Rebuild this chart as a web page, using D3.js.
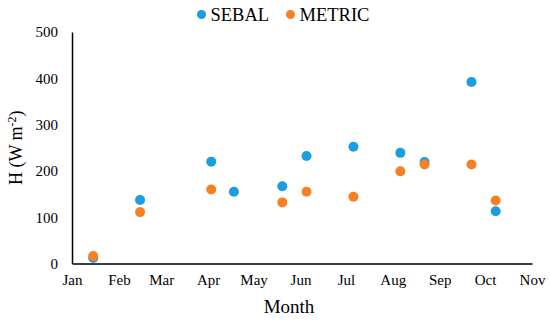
<!DOCTYPE html>
<meta charset="utf-8">
<style>
  body { margin: 0; background: white; }
</style>
<div id="chart"></div>
<script src="https://d3js.org/d3.v7.min.js"></script>
<script>

var sebalDates = ["2015-01-15", "2015-02-15", "2015-04-03", "2015-04-18", "2015-05-20", "2015-06-05",
                  "2015-07-06", "2015-08-06", "2015-08-22", "2015-09-22", "2015-10-08"];
var sebalValues = [12, 137, 220, 155, 167, 232, 252, 239, 219, 392, 113];

var metricDates = ["2015-01-15", "2015-02-15", "2015-04-03", "2015-05-20", "2015-06-05",
                   "2015-07-06", "2015-08-06", "2015-08-22", "2015-09-22", "2015-10-08"];
var metricValues = [16, 111, 160, 132, 155, 144, 199, 214, 214, 136];

var yTicks = [0, 100, 200, 300, 400, 500];

var width = 550, height = 322;
var margin = {top: 32, right: 18, bottom: 58.5, left: 72};
var serif = "'Liberation Serif', 'Times New Roman', serif";

var parse = d3.timeParse("%Y-%m-%d");

var svg = d3.select("#chart").append("svg")
  .attr("width", width)
  .attr("height", height);

var x = d3.scaleTime()
  .domain([parse("2015-01-01"), parse("2015-11-01")])
  .range([margin.left, width - margin.right]);

var y = d3.scaleLinear()
  .domain([0, 500])
  .range([height - margin.bottom, margin.top]);

// x axis
var xAxis = svg.append("g")
  .attr("transform", "translate(0," + y(0) + ")")
  .call(d3.axisBottom(x)
    .ticks(d3.timeMonth.every(1))
    .tickFormat(d3.timeFormat("%b"))
    .tickSize(0)
    .tickPadding(11));
xAxis.select(".domain").attr("stroke", "#000").attr("stroke-width", 1.5);
xAxis.selectAll("text")
  .style("font-family", serif)
  .style("font-size", "15px")
  .style("fill", "#000");

// y axis
var yAxis = svg.append("g")
  .attr("transform", "translate(" + margin.left + ",0)")
  .call(d3.axisLeft(y).tickValues(yTicks).tickSize(0).tickPadding(14));
yAxis.select(".domain").attr("stroke", "#000").attr("stroke-width", 1.5);
yAxis.selectAll("text")
  .style("font-family", serif)
  .style("font-size", "15px")
  .style("fill", "#000");

// axis titles
svg.append("text")
  .attr("x", 289)
  .attr("y", 313)
  .attr("text-anchor", "middle")
  .style("font-family", serif)
  .style("font-size", "19px")
  .text("Month");

var yTitle = svg.append("text")
  .attr("transform", "translate(22," + ((y(0) + y(500)) / 2) + ") rotate(-90)")
  .attr("text-anchor", "middle")
  .style("font-family", serif)
  .style("font-size", "18px");
yTitle.append("tspan").text("H (W m");
yTitle.append("tspan").attr("dy", -6).style("font-size", "12px").text("-2");
yTitle.append("tspan").attr("dy", 6).text(")");

// points
function drawSeries(dates, values, color) {
  svg.append("g")
    .selectAll("circle")
    .data(dates.map(function(d, i) { return {date: parse(d), value: values[i]}; }))
    .enter()
    .append("circle")
      .attr("cx", function(d) { return x(d.date); })
      .attr("cy", function(d) { return y(d.value); })
      .attr("r", 5)
      .attr("fill", color);
}
drawSeries(sebalDates, sebalValues, "#1B9DE0");
drawSeries(metricDates, metricValues, "#F88024");

// legend
var legend = [
  {name: "SEBAL", color: "#1B9DE0", x: 201.5},
  {name: "METRIC", color: "#F88024", x: 290.5}
];
legend.forEach(function(l) {
  svg.append("circle").attr("cx", l.x).attr("cy", 14.5).attr("r", 4.5).attr("fill", l.color);
  svg.append("text")
    .attr("x", l.x + 9)
    .attr("y", 21)
    .style("font-family", serif)
    .style("font-size", "18.5px")
    .text(l.name);
});

</script>
